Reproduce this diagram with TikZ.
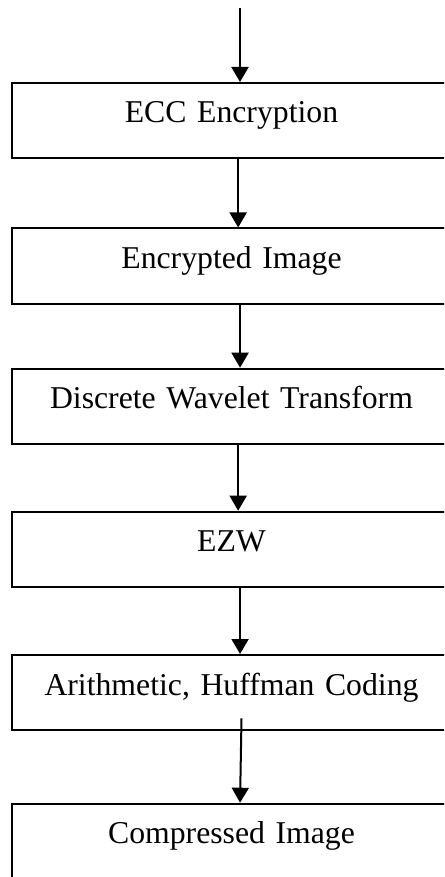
\documentclass[tikz,border=0pt]{standalone}
\usepackage{fontspec}
\setmainfont{Liberation Serif}
\usetikzlibrary{arrows.meta}
\tikzset{
  stage/.style={draw, line width=1.5pt, rectangle, anchor=north,
    inner xsep=0pt, inner ysep=0pt, text width=329.25pt, align=center,
    text height=30pt, text depth=26.25pt,
    font=\fontsize{23.8pt}{28pt}\selectfont},
  flow/.style={line width=1.5pt, -{Triangle[width=12.75pt,length=11.25pt]}}
}
\begin{document}
\begin{tikzpicture}[x=0.75pt,y=-0.75pt]
\clip (0,0) rectangle (444,877);
\node[stage] (b1) at (231.5,82) {ECC Encryption};
\node[stage] (b2) at (231.5,227.5) {Encrypted Image};
\node[stage] (b3) at (231.5,367.7) {Discrete Wavelet Transform};
\node[stage] (b4) at (231.5,510.7) {EZW};
\node[stage] (b5) at (231.5,654) {Arithmetic, Huffman Coding};
\node[stage] (b6) at (231.5,802.7) {Compressed Image};
\coordinate (in) at (240,8);
\draw[flow] (in) -- (in |- b1.north);
\draw[flow] ([xshift=5pt]b1.south) -- ([xshift=5pt]b2.north);
\draw[flow] ([xshift=6.4pt]b2.south) -- ([xshift=6.4pt]b3.north);
\draw[flow] ([xshift=5pt]b3.south) -- ([xshift=5pt]b4.north);
\draw[flow] ([xshift=6.4pt]b4.south) -- ([xshift=6.4pt]b5.north);
\draw[flow] ([xshift=7.5pt,yshift=9.5pt]b5.south) -- ([xshift=6.4pt]b6.north);
\end{tikzpicture}
\end{document}
